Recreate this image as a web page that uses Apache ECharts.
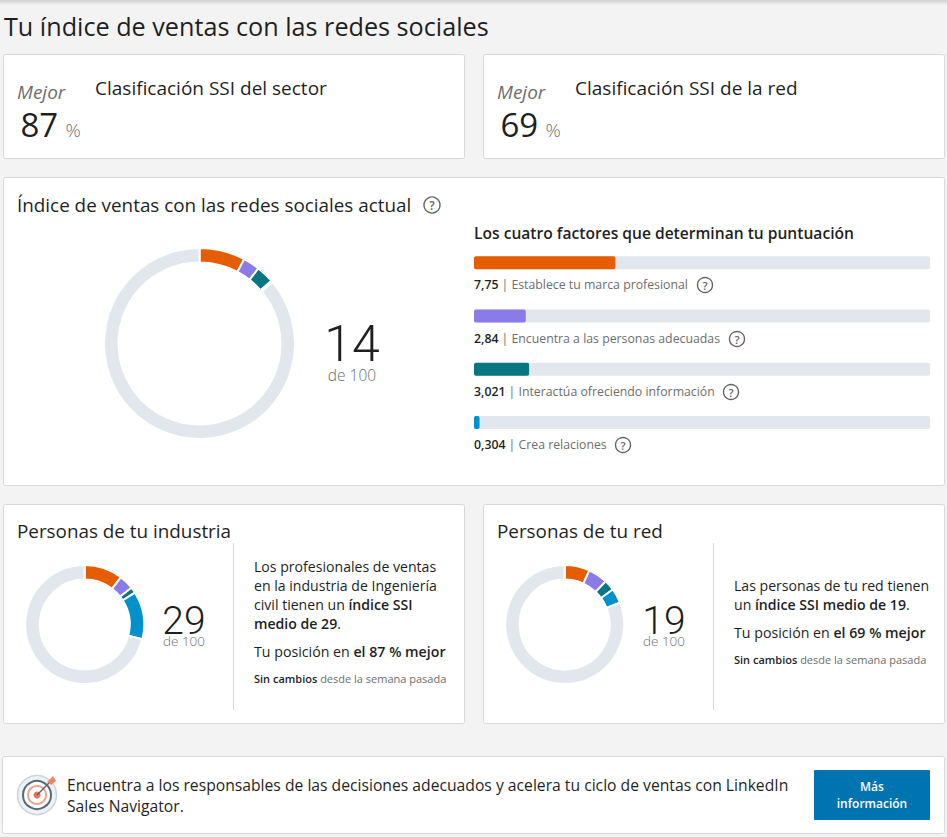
<!DOCTYPE html>
<html lang="es"><head><meta charset="utf-8">
<style>html,body{margin:0;padding:0;background:#f3f3f3}#c{width:947px;height:837px}</style>
<script src="https://cdn.jsdelivr.net/npm/echarts@6/dist/echarts.min.js"></script>
</head><body><div id="c"></div>
<script>
const FACTOR_NAMES = ['Establece tu marca profesional','Encuentra a las personas adecuadas','Interactúa ofreciendo información','Crea relaciones'];
const FACTOR_LABELS = ['7,75','2,84','3,021','0,304'];
const FACTOR_VALUES = [7.75,2.84,3.021,0.304];
const FACTOR_MAX = 25;
const INDUSTRY_VALUES = [10.4,4,1.6,13];
const NETWORK_VALUES = [6.8,5.3,2.9,4];
const COLORS = ['#e65c00','#8a7be8','#087682','#0091ca'];
const TRACK = '#e1e7ed';
const FONT = '"Open Sans","Noto Sans",sans-serif';
const NUMFONT = 'Roboto,"Open Sans",sans-serif';
const INK = '#1f1f1f', GREY = '#6e6e6e';

function card(x,y,w,h){return {type:'rect',z:0,silent:true,shape:{x:x+.5,y:y+.5,width:w,height:h,r:2},style:{fill:'#fff',stroke:'#d8d8d8',lineWidth:1}};}
function t(text,x,y,size,opt){opt=opt||{};return {type:'text',z:10,silent:true,style:Object.assign({text:text,x:x,y:y,font:(opt.italic?'italic ':'')+(opt.weight||400)+' '+size+'px '+FONT,fill:opt.fill||INK,align:opt.align||'left',verticalAlign:'middle'},opt.rich?{rich:opt.rich}:{})};}
function score(text,x,y,size,subSize,h1,h2){return {type:'text',z:10,silent:true,style:{text:'{a|'+text+'}\n{s|de 100}',x:x,y:y,align:'center',verticalAlign:'middle',
 rich:{a:{fontFamily:NUMFONT,fontWeight:300,fontSize:size,lineHeight:h1,fill:INK,align:'center'},s:{fontFamily:FONT,fontWeight:300,fontSize:subSize,lineHeight:h2,fill:GREY,align:'center'}}}};}
function rich(size,color){return {n:{fontFamily:FONT,fontSize:size,fontWeight:400,fill:color||INK},b:{fontFamily:FONT,fontSize:size,fontWeight:600,fill:INK},g:{fontFamily:FONT,fontSize:size,fontWeight:400,fill:GREY}};}
function help(x,y,r){return [
 {type:'circle',z:10,silent:true,shape:{cx:x,cy:y,r:r},style:{fill:'none',stroke:'#666',lineWidth:1.4}},
 {type:'text',z:10,silent:true,style:{text:'?',x:x,y:y,font:'600 '+(r*1.5)+'px '+FONT,fill:'#666',align:'center',verticalAlign:'middle'}}];}
function donut(values,cx,cy,ro,ri){
 const sum=values.reduce((a,b)=>a+b,0);
 const data=values.map((v,i)=>({value:v,itemStyle:{color:COLORS[i]}}));
 data.push({value:100-sum,itemStyle:{color:TRACK}});
 return {type:'pie',silent:true,animation:false,startAngle:90,clockwise:true,center:[cx,cy],radius:[ri,ro],label:{show:false},labelLine:{show:false},
  itemStyle:{borderColor:'#fff',borderWidth:2},data:data,z:5};
}
const labelYs=[284.5,338.5,391.5,444.5];
const helpXs=[705,737,731,623];
const elements=[
 {type:'rect',z:0,silent:true,shape:{x:0,y:0,width:947,height:5},style:{fill:new echarts.graphic.LinearGradient(0,0,0,1,[{offset:0,color:'#d0d0d0'},{offset:1,color:'#f3f3f3'}])}},
 card(3,54,461,104),card(483,54,461,104),card(3,177,941,308),card(3,504,461,219),card(483,504,461,219),card(2,756,942,77),
 t('Tu índice de ventas con las redes sociales',4,26,25.2),
 t('Mejor',17,91.5,19,{italic:true,fill:GREY}),t('87',20.5,124,33),t('%',65.5,130,19,{fill:GREY,weight:300}),t('Clasificación SSI del sector',95,88,19),
 t('Mejor',497,91.5,19,{italic:true,fill:GREY}),t('69',500.5,124,33),t('%',545.5,130,19,{fill:GREY,weight:300}),t('Clasificación SSI de la red',575,88,19),
 t('Índice de ventas con las redes sociales actual',17,205,18.85),
 ...help(432,205,8),
 score('14',352,356.5,50,15.5,37,26),
 t('Los cuatro factores que determinan tu puntuación',474,232.5,15.6,{weight:600}),
 t('Personas de tu industria',17,531,18.85),t('Personas de tu red',497,531,18.85),
 {type:'line',z:1,silent:true,shape:{x1:233.5,y1:543,x2:233.5,y2:710},style:{stroke:'#d8d8d8',lineWidth:1}},
 {type:'line',z:1,silent:true,shape:{x1:713.5,y1:543,x2:713.5,y2:710},style:{stroke:'#d8d8d8',lineWidth:1}},
 score('29',184,627,39,13.5,28,13),
 score('19',664,627,39,13.5,28,13),
 t('Los profesionales de ventas',254,566,14.1),t('en la industria de Ingeniería',254,585,14.1),
 t('{n|civil tienen un }{b|índice SSI}',254,604,14,{rich:rich(14.1)}),t('{b|medio de 29}{n|.}',254,623,14,{rich:rich(14.1)}),
 t('{n|Tu posición en }{b|el 87 % mejor}',254,651,14,{rich:rich(14.2)}),
 t('{b|Sin cambios} {g|desde la semana pasada}',254,678.5,11,{rich:rich(11)}),
 t('Las personas de tu red tienen',734,585,14.1),
 t('{n|un }{b|índice SSI medio de 19}{n|.}',734,604,14,{rich:rich(14.1)}),
 t('{n|Tu posición en }{b|el 69 % mejor}',734,632,14,{rich:rich(14.2)}),
 t('{b|Sin cambios} {g|desde la semana pasada}',734,659.5,11,{rich:rich(11)}),
 {type:'circle',z:10,silent:true,shape:{cx:37,cy:795,r:19.5},style:{fill:'#eef2f5',stroke:'#c9d4dc',lineWidth:1.5}},
 {type:'circle',z:10,silent:true,shape:{cx:37,cy:795,r:14},style:{fill:'#fff',stroke:'#56687a',lineWidth:2}},
 {type:'circle',z:10,silent:true,shape:{cx:37,cy:795,r:9},style:{fill:'#fff',stroke:'#f2a68f',lineWidth:2}},
 {type:'circle',z:10,silent:true,shape:{cx:37,cy:795,r:3.5},style:{fill:'#e8745a'}},
 {type:'line',z:10,silent:true,shape:{x1:37,y1:795,x2:50,y2:782},style:{stroke:'#56687a',lineWidth:1.5}},
 {type:'polygon',z:10,silent:true,shape:{points:[[47,782],[53,776],[56,781],[51,785]]},style:{fill:'#f0846a'}},
 t('Encuentra a los responsables de las decisiones adecuados y acelera tu ciclo de ventas con LinkedIn',67,784.5,15.7),
 t('Sales Navigator.',67,805.5,15.7),
 {type:'rect',z:9,silent:true,shape:{x:814,y:770,width:116,height:50,r:1},style:{fill:'#0073b1'}},
 t('Más',872,786,12,{weight:600,fill:'#fff',align:'center'}),t('información',872,803,12,{weight:600,fill:'#fff',align:'center'})
];
FACTOR_NAMES.forEach((n,i)=>{
 elements.push(t('{b|'+FACTOR_LABELS[i]+'} {g||} {g|'+n+'}',474,labelYs[i],12,{rich:rich(12.3)}));
 elements.push(...help(helpXs[i],labelYs[i]+.5,7.5));
});
const chart=echarts.init(document.getElementById('c'),null,{renderer:'svg',width:947,height:837});
chart.setOption({
 animation:false,backgroundColor:'#f3f3f3',
 graphic:{elements:elements},
 grid:{left:474,top:236,width:456,height:213,containLabel:false},
 xAxis:{type:'value',min:0,max:FACTOR_MAX,show:false},
 yAxis:{type:'category',inverse:true,data:FACTOR_NAMES,show:false},
 series:[
  {type:'bar',silent:true,barWidth:13,showBackground:true,backgroundStyle:{color:TRACK,borderRadius:2},z:5,
   itemStyle:{borderRadius:2},data:FACTOR_VALUES.map((v,i)=>({value:v,itemStyle:{color:COLORS[i]}}))},
  donut(FACTOR_VALUES,199.5,343.5,95.5,81),
  donut(INDUSTRY_VALUES,84.7,624.5,59.5,45),
  donut(NETWORK_VALUES,564.7,624.5,59.5,45)
 ]
});
</script></body></html>
